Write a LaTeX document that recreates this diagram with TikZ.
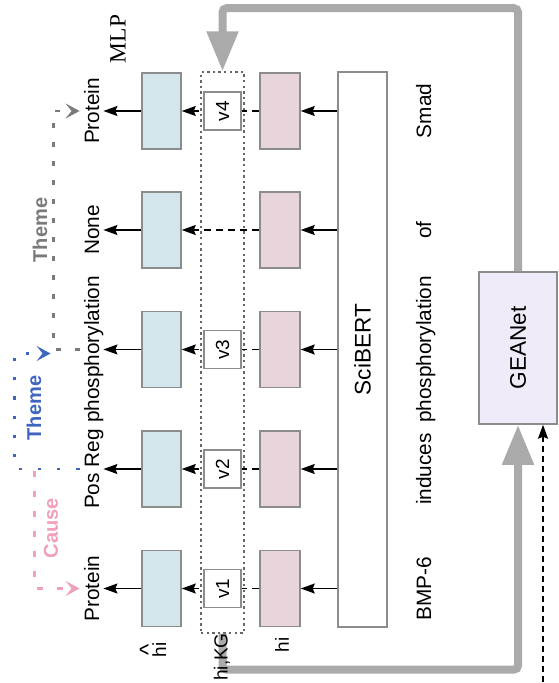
\documentclass[tikz,border=0pt]{standalone}
\usepackage{fontspec}
\setmainfont{Liberation Sans}
\newfontfamily\mlpfont{Liberation Serif}
\usetikzlibrary{arrows.meta,calc}

\definecolor{hatblue}{HTML}{D2E6EC}
\definecolor{hpink}{HTML}{E8D5DC}
\definecolor{geafill}{HTML}{EFEBF9}
\definecolor{boxline}{HTML}{8C8C8C}
\definecolor{pathgray}{HTML}{AAAAAA}
\definecolor{themegray}{HTML}{7A7A7A}
\definecolor{themeblue}{HTML}{3F66BE}
\definecolor{causepink}{HTML}{F0A0B8}

\newcommand{\vtxt}[1]{\rotatebox{90}{#1}}

\begin{document}
\begin{tikzpicture}[
  x=0.5pt, y=-0.5pt, >=Stealth,
  hatbox/.style={draw=boxline, line width=0.75pt, fill=hatblue, minimum width=19.5pt, minimum height=38pt, inner sep=0pt},
  hbox/.style={draw=boxline, line width=0.75pt, fill=hpink, minimum width=20pt, minimum height=38pt, inner sep=0pt},
  vbox/.style={draw=boxline, line width=0.75pt, fill=white, minimum width=18.5pt, minimum height=19pt, inner sep=0pt, font=\fontsize{9.5}{11}\selectfont},
  kgbox/.style={draw=gray!80!black, line width=0.6pt, dash pattern=on 1.2pt off 1.6pt, minimum width=21.5pt, minimum height=280.5pt, inner sep=0pt},
  scibox/.style={draw=boxline, line width=0.75pt, fill=white, minimum width=24.5pt, minimum height=277.5pt, inner sep=0pt, font=\fontsize{11.3}{13}\selectfont},
  geabox/.style={draw=boxline, line width=0.75pt, fill=geafill, minimum width=39pt, minimum height=76pt, inner sep=0pt, font=\fontsize{11.3}{13}\selectfont},
  lbl/.style={rotate=90, font=\fontsize{10.4}{12}\selectfont, text height=7.5pt, text depth=0pt, inner sep=2pt},
  word/.style={rotate=90, font=\fontsize{10.4}{12}\selectfont, inner sep=0pt},
  tag/.style={rotate=90, font=\fontsize{9.5}{10}\selectfont, inner sep=1pt},
  rel/.style={rotate=90, font=\bfseries\fontsize{10}{12}\selectfont, inner sep=1pt},
  flow/.style={-{Stealth[length=7pt,width=5pt,inset=1pt]}, line width=0.7pt},
  dflow/.style={flow, dash pattern=on 3.5pt off 2.5pt},
  bigflow/.style={-{Triangle[length=20pt,width=15pt]}, line width=4pt, draw=pathgray, rounded corners=2pt},
  relhead/.style={-{Stealth[length=7pt,width=7.5pt,inset=3pt]}, line width=1.4pt},
  thmgray/.style={relhead, draw=themegray, dash pattern=on 2.5pt off 7pt},
  thmblue/.style={relhead, draw=themeblue, dash pattern=on 1.6pt off 8pt},
  cause/.style={relhead, draw=causepink, dash pattern=on 3pt off 7pt},
]
  \useasboundingbox (0,0) rectangle (558,683);

  % hi,KG column
  \node[kgbox] (kg) at (222.5,352.5) {};

  % one row per token, bottom to top
  \foreach \i/\y/\lab/\wrd in {1/588.5/Protein/BMP-6, 2/469/Pos Reg/induces,
      3/349.5/phosphorylation/phosphorylation, 4/230/None/of, 5/111/Protein/Smad} {
    \node[hatbox] (hat\i) at (161.5,\y) {};
    \node[hbox] (h\i) at (280,\y) {};
    \node[lbl, anchor=base] (lab\i) at (99,\y) {\lab};
    \node[word, anchor=base] (w\i) at (431,\y) {\wrd};
  }

  \node[scibox] (sci) at (362.5,349.5) {\vtxt{SciBERT}};

  \foreach \i in {1,...,5} {
    \draw[flow] (sci.west |- h\i) -- (h\i.east);
    \draw[dflow] (h\i.west) -- (hat\i.east);
    \draw[flow] (hat\i.west) -- (lab\i.south);
  }

  % graph node vectors
  \foreach \j/\i in {1/1, 2/2, 3/3, 4/5}
    \node[vbox] (v\j) at (kg |- hat\i) {\vtxt{v\j}};

  \node[geabox] (gea) at (518,348) {\vtxt{GEANet}};

  \draw[bigflow] (gea.north) -- ++(0,-263) -| (kg.north);
  \draw[bigflow] (kg.south) -- ++(0,36) -| (gea.south);
  \coordinate (ext) at (543,682);
  \draw[flow, dash pattern=on 3pt off 2pt] (ext) -- (ext |- gea.south);

  \node[tag] (kglab) at (222,657) {hi,KG};
  \node[tag] (hatlab) at (153,650) {\shortstack{{\large\textasciicircum}\\[-5pt]hi}};
  \node[tag] (hlab) at (282,645) {hi};
  \node[rotate=90, font=\mlpfont\fontsize{11.7}{14}\selectfont] (mlp) at (118,39) {MLP};

  % event arguments
  \draw[thmgray] (lab3.north) -- ++(-26,0) coordinate (pcorner) |- (lab5.north);
  \node[rel, text=themegray] (thm1) at (40,230) {Theme};
  \draw[thmblue] (lab2.north) -- coordinate[pos=0.69] (cstart) ++(-65,0) |- ([shift={(-3,4)}]pcorner);
  \node[rel, text=themeblue] (thm2) at (34,408) {Theme};
  \draw[cause] ([yshift=-1pt]cstart) |- (lab1.north);
  \node[rel, text=causepink] (cau) at (51,528) {Cause};
\end{tikzpicture}
\end{document}
